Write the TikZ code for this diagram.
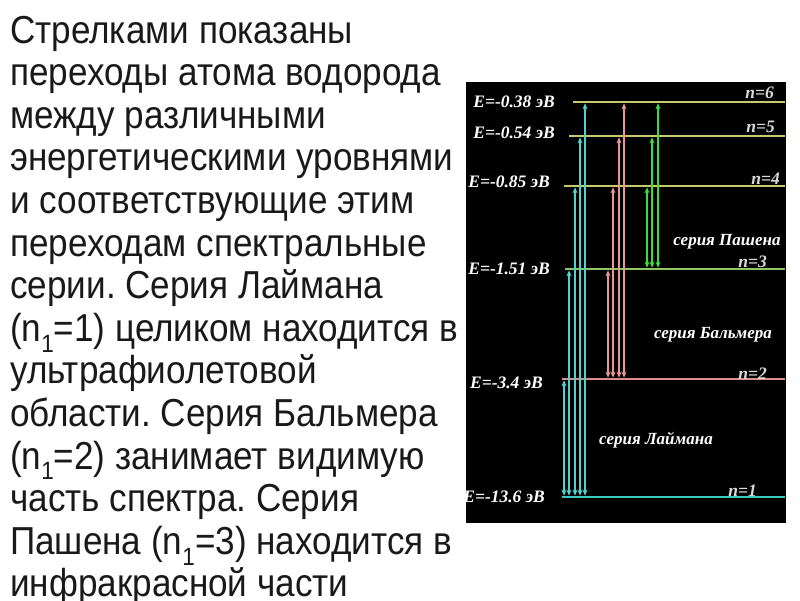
\documentclass[tikz,border=0pt]{standalone}
\usepackage{fontspec}
\setmainfont[FakeStretch=0.9]{Liberation Sans}
\newfontfamily\labelfont{Liberation Serif}
\usetikzlibrary{arrows.meta}

\definecolor{lymancol}{RGB}{80,210,205}
\definecolor{balmercol}{RGB}{232,150,150}
\definecolor{paschencol}{RGB}{60,220,60}
\definecolor{highcol}{RGB}{200,200,110}
\definecolor{threecol}{RGB}{140,200,100}
\definecolor{twocol}{RGB}{225,140,140}
\definecolor{onecol}{RGB}{60,200,190}

\newcommand{\lowone}[1]{\smash{\raisebox{-0.28em}{\fontsize{25}{25}\selectfont #1}}}
\frenchspacing

\tikzset{
  level/.style={line width=2.6pt},
  trans/.style={line width=1.8pt,shorten <=1.3pt,shorten >=1.3pt,
    {Stealth[length=6pt,width=5pt]}-{Stealth[length=6pt,width=5pt]}},
  energy/.style={anchor=base east,inner sep=0pt,text=white,
    font=\labelfont\bfseries\itshape\fontsize{17.5}{17.5}\selectfont},
  qnum/.style={anchor=base east,inner sep=0pt,text=white!85!black,
    font=\labelfont\bfseries\itshape\fontsize{17.5}{17.5}\selectfont},
  series/.style={anchor=base,inner sep=0pt,text=white,
    font=\labelfont\bfseries\itshape\fontsize{17}{17}\selectfont},
  textline/.style={anchor=base west,inner sep=0pt,text=black!90,
    font=\fontsize{39}{42}\selectfont}
}

\begin{document}
\begin{tikzpicture}[x=1pt,y=-1pt]
	\useasboundingbox (0,0) rectangle (800,600);
	% text on the left
	\foreach \t [count=\i] in {Стрелками показаны,переходы атома водорода,между различными,
		энергетическими уровнями,и соответствующие этим,переходам спектральные,
		серии. Серия Лаймана,(n\lowone{1}=1) целиком находится в,ультрафиолетовой,
		области. Серия Бальмера,(n\lowone{1}=2) занимает видимую,часть спектра. Серия,
		Пашена (n\lowone{1}=3) находится в,инфракрасной части}
		\node[textline] (l\i) at (10,{43+42.6*(\i-1)}) {\t};
	% panel
	\fill[black] (466,82) rectangle (786,523);
	% levels
	\foreach \n/\x/\y/\c in {1/562/497/onecol,2/562/379/twocol,3/565/269/threecol,
		4/564/186/highcol,5/569/136/highcol,6/573/102/highcol}
		\draw[level,\c] (\x,\y) coordinate (s\n) -- (785,\y) coordinate (e\n);
	% transitions
	\foreach \x/\a/\b in {564/1/2,569/1/3,575/1/4,580/1/5,585/1/6}
		\draw[trans,lymancol] (\x,0 |- s\a) -- (\x,0 |- s\b);
	\foreach \x/\a/\b in {608/2/3,613/2/4,619/2/5,624/2/6}
		\draw[trans,balmercol] (\x,0 |- s\a) -- (\x,0 |- s\b);
	\foreach \x/\a/\b in {647/3/4,652/3/5,658/3/6}
		\draw[trans,paschencol] (\x,0 |- s\a) -- (\x,0 |- s\b);
	% energies
	\node[energy] (E6) at (555,107) {E=-0.38 эВ};
	\node[energy] (E5) at (555,138) {E=-0.54 эВ};
	\node[energy] (E4) at (550,187) {E=-0.85 эВ};
	\node[energy] (E3) at (550,274) {E=-1.51 эВ};
	\node[energy] (E2) at (543,388) {E=-3.4 эВ};
	\node[energy] (E1) at (545,502) {E=-13.6 эВ};
	% quantum numbers
	\node[qnum] (q6) at (774,98) {n=6};
	\node[qnum] (q5) at (775,132) {n=5};
	\node[qnum] (q4) at (780,184) {n=4};
	\node[qnum] (q3) at (767,267) {n=3};
	\node[qnum] (q2) at (767,379) {n=2};
	\node[qnum] (q1) at (757,496) {n=1};
	% series
	\node[series] (paschen) at (727,245) {серия Пашена};
	\node[series] (balmer) at (713,338) {серия Бальмера};
	\node[series] (lyman) at (656,444) {серия Лаймана};
\end{tikzpicture}
\end{document}
